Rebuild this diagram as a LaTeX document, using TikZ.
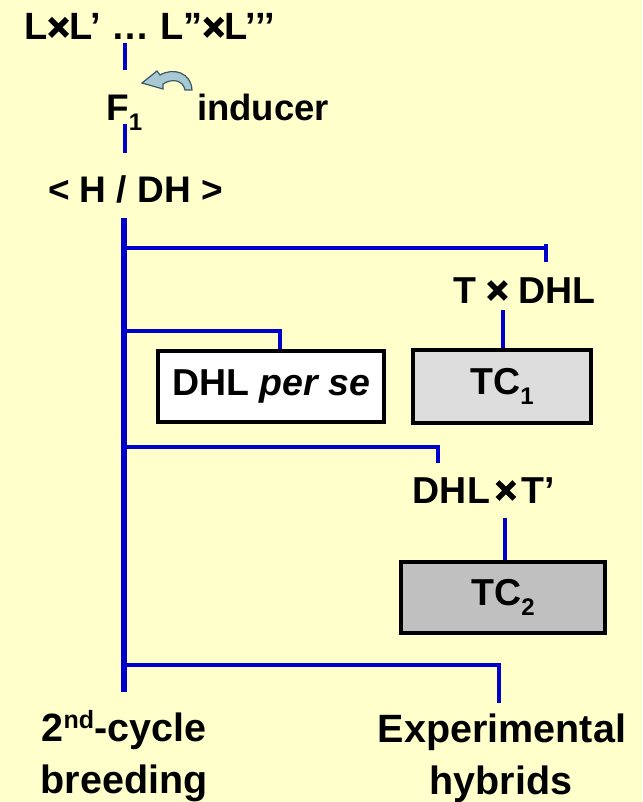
\documentclass[tikz,border=0pt]{standalone}
\usepackage{fontspec}
\setmainfont{Liberation Sans}
\newfontfamily\heavyx[FakeBold=3.5]{Liberation Sans Bold}
\newcommand{\tx}{{\heavyx ×}}
\definecolor{bgyellow}{HTML}{FFFFCC}
\definecolor{lineblue}{HTML}{0000CC}
\definecolor{boxgrey}{HTML}{DDDDDD}
\definecolor{boxgreyd}{HTML}{C0C0C0}
\definecolor{arrowfill}{HTML}{A8C8D4}
\definecolor{arrowline}{HTML}{3C5A66}
\newcommand{\mysub}[1]{\raisebox{-10pt}{\fontsize{24}{24}\selectfont #1}}
\newcommand{\mysup}[1]{\raisebox{13pt}{\fontsize{25}{25}\selectfont #1}}
\begin{document}
\begin{tikzpicture}[x=1pt,y=-1pt,
  txt/.style={inner sep=0pt,font=\fontsize{37.5}{40}\selectfont\bfseries},
  big/.style={inner sep=0pt,font=\fontsize{39.5}{42}\selectfont\bfseries},
  conn/.style={draw=lineblue,line width=4pt},
  trunk/.style={draw=lineblue,line width=5.5pt},
  boxw/.style={draw=black,line width=4pt,fill=white,inner sep=0pt,minimum width=226pt,minimum height=71pt,font=\fontsize{37.5}{40}\selectfont\bfseries},
  boxa/.style={boxw,fill=boxgrey,minimum width=178pt,minimum height=73pt},
  boxb/.style={boxw,fill=boxgreyd,minimum width=204pt,minimum height=71pt}]
\fill[bgyellow] (0,0) rectangle (642,802);
\useasboundingbox (0,0) rectangle (642,802);
% top
\node[txt,anchor=base,font=\fontsize{38}{40}\selectfont\bfseries] (cross) at (149.5,40) {L\tx L’ … L”\tx L’’’};
\coordinate (d1a) at (125,43); \coordinate (d1b) at (125,70);
\draw[conn] (d1a) -- (d1b);
\node[txt,anchor=base west,font=\fontsize{37}{40}\selectfont\bfseries] (f1) at (106,121) {F\mysub{1}};
\node[txt,anchor=base west,font=\fontsize{36.5}{40}\selectfont\bfseries] (ind) at (197,121) {inducer};
\coordinate (d2a) at (125,124); \coordinate (d2b) at (125,153);
\draw[conn] (d2a) -- (d2b);
% curved arrow
\filldraw[fill=arrowfill,draw=arrowline,line width=1.2pt]
  (192,90) .. controls (191,73) and (174,67) .. (160,75) -- (157,71) -- (142,83)
  -- (163,89) -- (163,84) .. controls (172,78) and (183,80) .. (185,90) -- cycle;
\node[txt,anchor=base,font=\fontsize{37}{40}\selectfont\bfseries] (hdh) at (135.5,203) {< H / DH >};
% trunk
\coordinate (ttop) at (124,218); \coordinate (tbot) at (124,692);
\draw[trunk] (ttop) -- (tbot);
% branch 1
\coordinate (b1) at (124,248); \coordinate (b1e) at (546,262);
\draw[conn] (b1) -| (b1e);
\draw[conn] (546,244) -- (b1e);
\node[txt,anchor=base] (tdhl) at (524.5,303) {T \tx{} DHL};
\node[boxa] (tc1) at (502,386.5) {TC\mysub{1}};
\coordinate (c1) at (503,310);
\draw[conn] (c1) -- (c1 |- tc1.north);
% branch 2
\node[boxw] (dps) at (271,386.5) {DHL \textit{per se}};
\coordinate (b2) at (124,331);
\draw[conn] (b2) -| (dps.north -| 280,0);
% branch 3
\coordinate (b3) at (124,447); \coordinate (b3e) at (438,463);
\draw[conn] (b3) -| (b3e);
\node[txt,anchor=base] (dhlt) at (484,503) {DHL\kern5pt\tx\kern5pt T’};
\node[boxb] (tc2) at (503,597.5) {TC\mysub{2}};
\coordinate (c3) at (505,518);
\draw[conn] (c3) -- (c3 |- tc2.north);
% branch 4
\coordinate (b4) at (124,665); \coordinate (b4e) at (499,703);
\draw[conn] (b4) -| (b4e);
% bottom labels
\node[big,anchor=base] (cyc) at (124,741) {2\mysup{nd}-cycle};
\node[big,anchor=base] (bre) at (124,793) {breeding};
\node[big,anchor=base] (exp) at (502,742) {Experimental};
\node[big,anchor=base] (hyb) at (501,794) {hybrids};
\end{tikzpicture}
\end{document}
